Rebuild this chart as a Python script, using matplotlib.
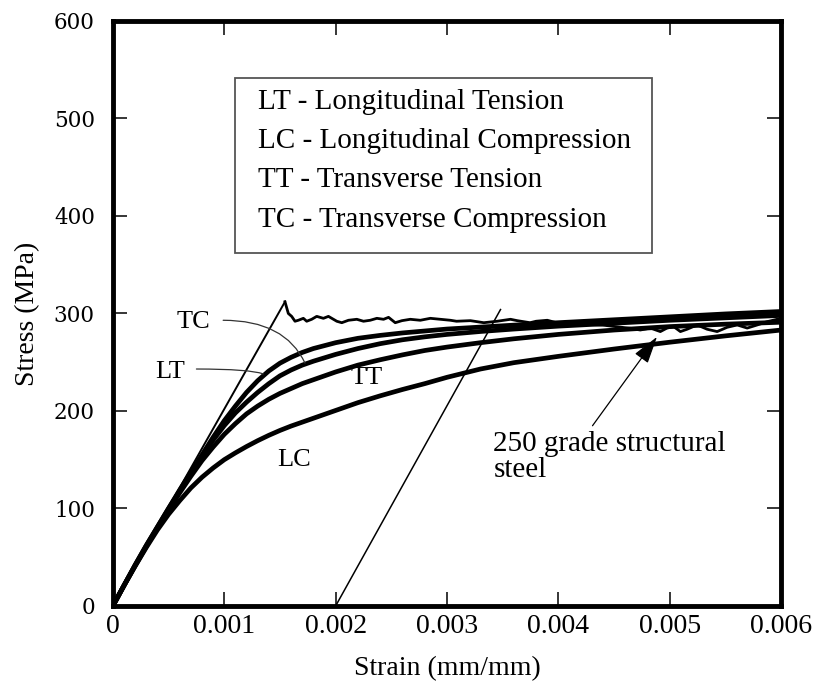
import matplotlib
matplotlib.use("Agg")
import matplotlib.pyplot as plt
from matplotlib.patches import Rectangle

# DATA
strain = [0, 0.0001, 0.0002, 0.0003, 0.0004, 0.0005, 0.0006, 0.0007, 0.0008, 0.0009,
          0.001, 0.0011, 0.0012, 0.0013, 0.0014, 0.0015, 0.0016, 0.0017, 0.0018, 0.002,
          0.0022, 0.0024, 0.0026, 0.0028, 0.003, 0.0033, 0.0036, 0.004, 0.0045, 0.005,
          0.0055, 0.006]
tc_stress = [0, 21, 42, 62, 81, 100, 119, 137, 155, 173, 190, 205, 219, 231, 241, 249,
             255, 260, 264, 270, 274.5, 277.5, 280, 282, 284, 286, 288, 290.5, 293.5,
             296.5, 299.5, 302]
lt_stress = [0, 21, 42, 62, 81, 100, 118, 136, 153, 170, 185, 198, 209, 219, 228, 236,
             242, 247, 251, 258, 264, 269, 273, 276, 278.5, 281.5, 284, 287, 290, 293,
             295.5, 298]
tt_stress = [0, 21, 41, 61, 80, 98, 116, 133, 149, 163, 176, 187, 197, 205, 212, 218,
             223, 228, 232, 240, 247, 252.5, 257.5, 262, 265.5, 270, 274, 278.5, 283,
             286.5, 289, 291]
lc_stress = [0, 21, 41, 60, 78, 94, 108, 121, 132, 141.5, 150, 157, 163.5, 169.5, 175,
             180, 184.5, 188.5, 192.5, 200.5, 208.5, 215.5, 222, 228, 234.5, 243, 249.5,
             256, 263.5, 270.5, 277, 283]

# 250 grade structural steel
steel_elastic_strain = [0, 0.001545]
steel_elastic_stress = [0, 312]
steel_strain = [0.001545, 0.001575, 0.001605, 0.001635, 0.001665, 0.00171, 0.00174,
                0.001785, 0.00183, 0.00189, 0.001935, 0.00201, 0.002055, 0.002115,
                0.00219, 0.00225, 0.00231, 0.00237, 0.00243, 0.002475, 0.002535,
                0.002595, 0.00267, 0.00276, 0.00285, 0.00294, 0.00303, 0.003085,
                0.00321, 0.00333, 0.00345, 0.00357, 0.00363, 0.003745, 0.0038, 0.0039,
                0.004, 0.0042, 0.0044, 0.00455, 0.004645, 0.004735, 0.004825, 0.004915,
                0.004975, 0.005035, 0.005095, 0.005155, 0.005245, 0.005335, 0.005425,
                0.005515, 0.005605, 0.005695, 0.005785, 0.005875, 0.006]
steel_stress = [312, 300, 297, 292, 293, 295, 292, 294, 297, 295, 297, 292, 290.5, 293,
                294, 292, 293, 295, 294, 296, 290.5, 292.6, 294, 293, 295, 294, 293, 292,
                292.6, 290.5, 292, 294, 292.6, 290.5, 292, 293, 290, 289, 288, 286,
                284.8, 283, 285, 281.4, 285, 286.5, 281.4, 283.8, 288.2, 283.8, 281.4,
                285.8, 288.2, 285, 288.2, 291.6, 295]

# 0.2% offset line
offset_strain = [0.002, 0.00348]
offset_stress = [0, 304]

legend_lines = ["LT - Longitudinal Tension",
                "LC - Longitudinal Compression",
                "TT - Transverse Tension",
                "TC - Transverse Compression"]

x_ticks = [0, 0.001, 0.002, 0.003, 0.004, 0.005, 0.006]
x_ticklabels = ["0", "0.001", "0.002", "0.003", "0.004", "0.005", "0.006"]
y_ticks = [0, 100, 200, 300, 400, 500, 600]

plt.rcParams["font.family"] = "Liberation Serif"

fig = plt.figure(figsize=(8.18, 6.87), dpi=100)
ax = fig.add_axes([0.138, 0.118, 0.817, 0.8515])

# curves
ax.plot(steel_elastic_strain, steel_elastic_stress, color="black", lw=1.4)
ax.plot(offset_strain, offset_stress, color="black", lw=1.1)
for s in [lc_stress, tt_stress, lt_stress, tc_stress]:
    ax.plot(strain, s, color="black", lw=3.4, solid_capstyle="round")
ax.plot(steel_strain, steel_stress, color="black", lw=2.0)

ax.set_xlim(0, 0.006)
ax.set_ylim(0, 600)
ax.set_xticks(x_ticks)
ax.set_xticklabels(x_ticklabels, fontsize=20)
ax.set_yticks(y_ticks)
ax.set_yticklabels([str(v) for v in y_ticks], fontsize=15.5, family="DejaVu Serif")
ax.tick_params(direction="in", length=10, width=1.1, top=True, right=True)
ax.tick_params(axis="x", pad=6)
ax.tick_params(axis="y", pad=13)
for sp in ax.spines.values():
    sp.set_linewidth(3.5)

ax.set_xlabel("Strain (mm/mm)", fontsize=20, labelpad=12)
ax.set_ylabel("Stress (MPa)", fontsize=20, labelpad=10)

# legend box
ax.add_patch(Rectangle((0.1826, 0.6034), 0.6244, 0.2992, transform=ax.transAxes,
                       fill=False, edgecolor="#555555", lw=1.3))
for i, line in enumerate(legend_lines):
    ax.text(0.2175, 0.862 - i * 0.0673, line, transform=ax.transAxes,
            fontsize=21, va="center", ha="left")

# curve labels with leaders
ax.text(0.00072, 291, "TC", fontsize=19, ha="center", va="center")
ax.annotate("", xy=(0.001725, 249), xytext=(0.00099, 293),
            arrowprops=dict(arrowstyle="-", lw=0.9, color="#333333", shrinkA=0, shrinkB=0,
                            connectionstyle="angle3,angleA=0,angleB=115"))
ax.text(0.00051, 240, "LT", fontsize=19, ha="center", va="center")
ax.annotate("", xy=(0.00135, 238), xytext=(0.00075, 243),
            arrowprops=dict(arrowstyle="-", lw=0.9, color="#333333", shrinkA=0, shrinkB=0,
                            connectionstyle="angle3,angleA=0,angleB=160"))
ax.text(0.00228, 234, "TT", fontsize=19, ha="center", va="center")
ax.text(0.00163, 150, "LC", fontsize=19, ha="center", va="center")

ax.annotate("250 grade structural\nsteel", xy=(0.004885, 276), xytext=(0.003417, 153),
            fontsize=21, ha="left", va="center", linespacing=1.0,
            arrowprops=dict(arrowstyle="-|>,head_length=0.85,head_width=0.25",
                            mutation_scale=20, lw=0.9, color="black",
                            relpos=(0.41, 1.0), shrinkA=2, shrinkB=0))

fig.savefig("out.png", dpi=100)
